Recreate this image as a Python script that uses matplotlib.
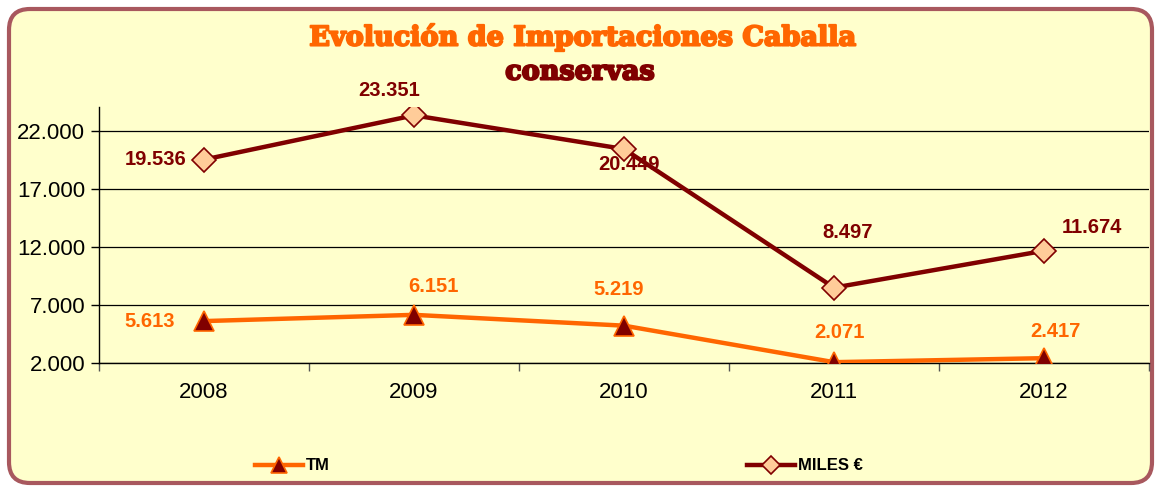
import matplotlib
matplotlib.use("Agg")
import matplotlib.pyplot as plt
import matplotlib.patheffects as pe
from matplotlib.patches import FancyBboxPatch

years = ["2008", "2009", "2010", "2011", "2012"]
tm = [5613, 6151, 5219, 2071, 2417]
miles = [19536, 23351, 20449, 8497, 11674]

# label offsets in pixels (dx, dy) from each point
tm_off = [(-54, 0), (19, 28), (-5, 36), (5, 30), (11, 27)]
miles_off = [(-48, 0), (-25, 25), (5, -15), (14, 55), (48, 23)]

ORANGE = "#FF6600"
DARKRED = "#800000"
BG = "#FFFFCC"

def fmt(v):
    return f"{v:,}".replace(",", ".")

fig = plt.figure(figsize=(11.62, 4.92), dpi=100)
fig.patch.set_facecolor("white")

# rounded frame
frame = FancyBboxPatch((9 / 1162, 9 / 492), 1143 / 1162, 474 / 492,
                       boxstyle="round,pad=0,rounding_size=0.018",
                       transform=fig.transFigure, facecolor=BG,
                       edgecolor="#A8585E", linewidth=3, zorder=-5,
                       mutation_aspect=1162 / 492)
fig.add_artist(frame)

ax = fig.add_axes([99 / 1162, 129 / 492, 1050 / 1162, 256 / 492])
ax.set_facecolor("none")
ax.set_zorder(2)
x = list(range(len(years)))

ax.plot(x, miles, color=DARKRED, lw=3.2, marker="D", ms=12,
        mfc="#FFCC99", mec=DARKRED, mew=1.2, label="MILES €", zorder=3)
ax.plot(x, tm, color=ORANGE, lw=3.2, marker="^", ms=15,
        mfc=DARKRED, mec=ORANGE, mew=1.2, label="TM", zorder=3)

for i in x:
    ax.annotate(fmt(miles[i]), (i, miles[i]), xytext=miles_off[i],
                textcoords="offset pixels", ha="center", va="center",
                color=DARKRED, fontsize=14.5, fontweight="bold",
                family="Liberation Sans", zorder=4)
    ax.annotate(fmt(tm[i]), (i, tm[i]), xytext=tm_off[i],
                textcoords="offset pixels", ha="center", va="center",
                color=ORANGE, fontsize=14.5, fontweight="bold",
                family="Liberation Sans", zorder=4)

ax.set_xlim(-0.5, 4.5)
ax.set_ylim(2000, 24070)
ax.set_yticks([2000, 7000, 12000, 17000, 22000])
ax.set_yticklabels([fmt(v) for v in [2000, 7000, 12000, 17000, 22000]],
                   fontsize=16, family="Liberation Sans")
ax.set_xticks(x)
ax.set_xticklabels(years, fontsize=16, family="Liberation Sans")
ax.set_xticks([i - 0.5 for i in range(len(years) + 1)], minor=True)
ax.tick_params(axis="x", which="major", length=0, pad=14)
ax.tick_params(axis="x", which="minor", length=6, width=1, color="#555555")
ax.tick_params(axis="y", length=6, width=1, pad=4)
ax.grid(axis="y", color="black", lw=0.9)
ax.set_axisbelow(True)
for s in ["top", "right"]:
    ax.spines[s].set_visible(False)
ax.spines["left"].set_linewidth(1)
ax.spines["bottom"].set_linewidth(1)

fig.text(583 / 1162, 1 - 37 / 492, "Evolución de Importaciones Caballa",
         ha="center", va="center", color=ORANGE, fontsize=19.5,
         fontweight="bold", family="DejaVu Serif",
         path_effects=[pe.withStroke(linewidth=1.5, foreground=ORANGE)])
fig.text(580 / 1162, 1 - 72 / 492, "conservas", ha="center", va="center",
         color=DARKRED, fontsize=19.5, fontweight="bold", family="DejaVu Serif",
         path_effects=[pe.withStroke(linewidth=1.5, foreground=DARKRED)])

h, l = ax.get_legend_handles_labels()
fig.legend([h[1], h[0]], [l[1], l[0]], loc="center", ncol=2,
           bbox_to_anchor=(559 / 1162, 26 / 492), frameon=False,
           handlelength=2.9, handletextpad=0.2, columnspacing=25,
           markerscale=0.75, prop={"family": "Liberation Sans",
                                   "weight": "bold", "size": 12})

fig.savefig("out.png", dpi=100)
